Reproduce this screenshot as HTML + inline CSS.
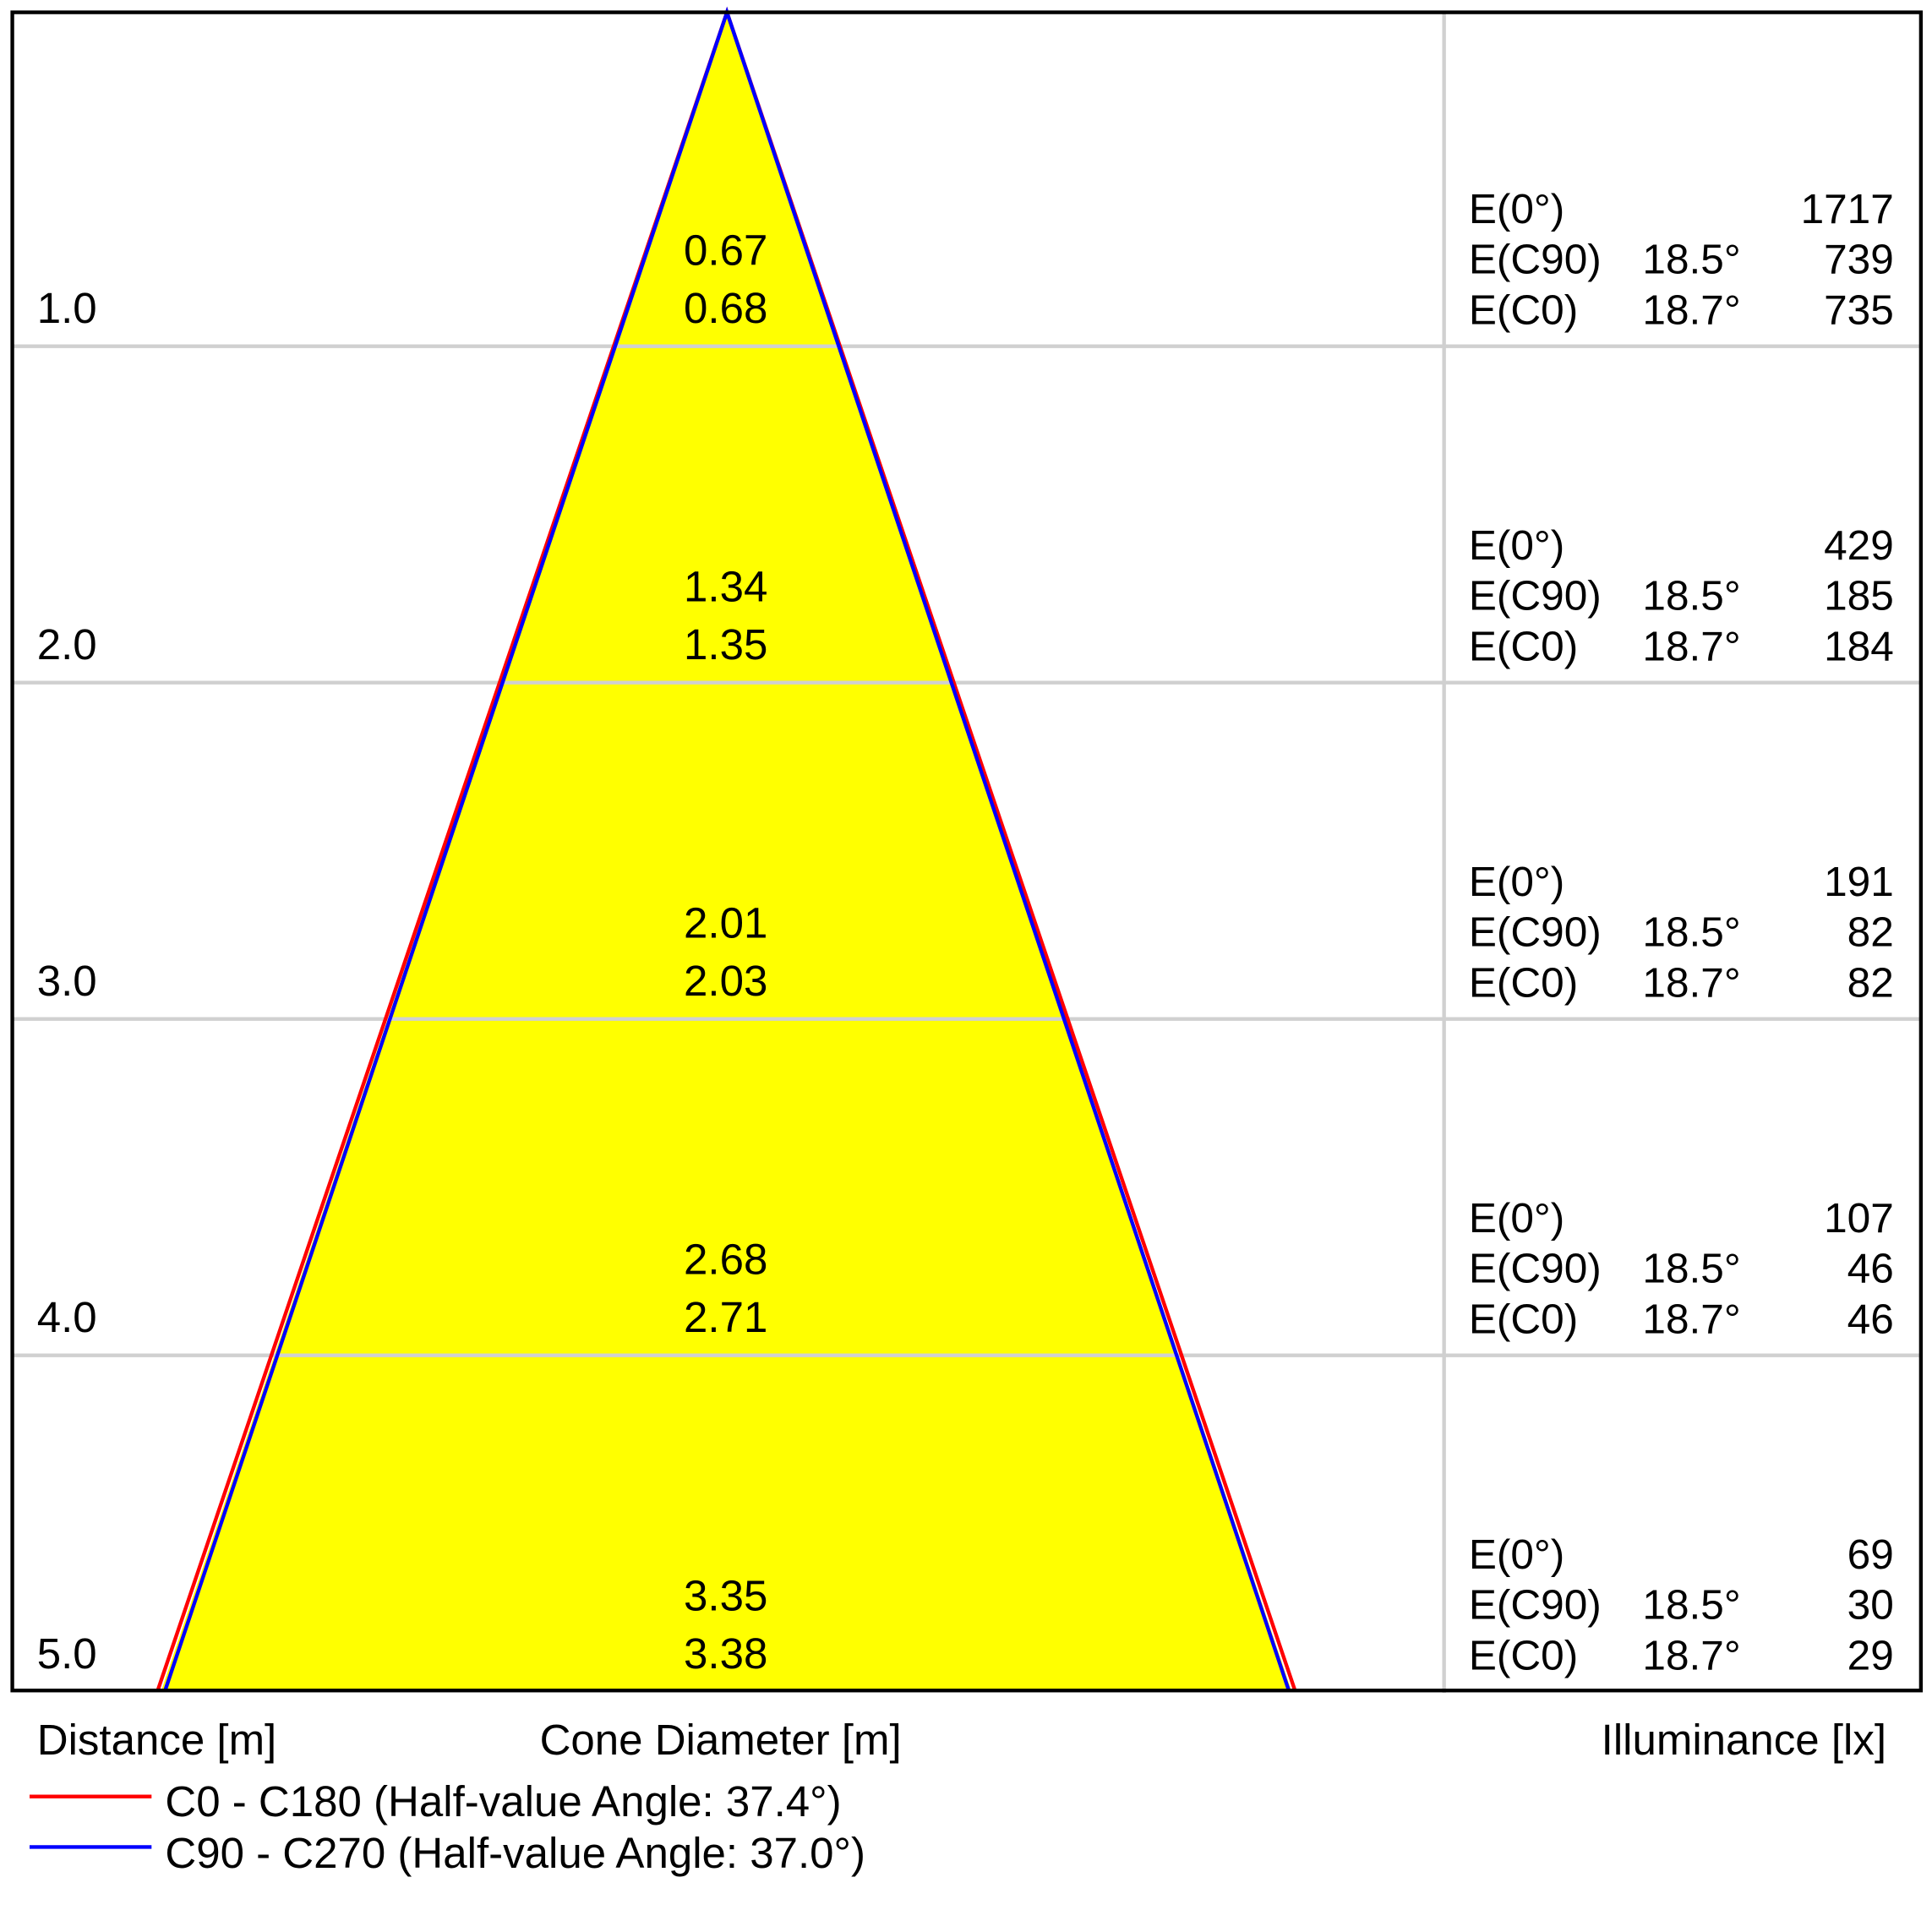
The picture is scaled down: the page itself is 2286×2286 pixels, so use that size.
<!DOCTYPE html>
<html><head><meta charset="utf-8"><style>html,body{margin:0;padding:0;background:#fff}svg{display:block}</style></head>
<body>
<svg width="2286" height="2286" viewBox="0 0 1568 1568" xmlns="http://www.w3.org/2000/svg" font-family="Liberation Sans, sans-serif" font-size="35" fill="#000">
<rect width="1568" height="1568" fill="#fff"/>
<polygon points="590,10 131,1372 1048,1372" fill="#ffff00"/>
<g stroke="#d0d0d0" stroke-width="3">
<line x1="10" y1="281" x2="1559" y2="281"/>
<line x1="10" y1="554" x2="1559" y2="554"/>
<line x1="10" y1="827" x2="1559" y2="827"/>
<line x1="10" y1="1100" x2="1559" y2="1100"/>
<line x1="1172" y1="10" x2="1172" y2="1374"/>
</g>
<polyline points="128,1372 590,10 1051,1372" fill="none" stroke="#ff0000" stroke-width="3"/>
<polyline points="134,1372 590,10 1046,1372" fill="none" stroke="#0000ff" stroke-width="3"/>
<rect x="10" y="10" width="1549" height="1362" fill="none" stroke="#000" stroke-width="3"/>
<g>
<text x="30" y="262">1.0</text><text x="30" y="535">2.0</text><text x="30" y="808">3.0</text><text x="30" y="1081">4.0</text><text x="30" y="1354">5.0</text>
</g>
<g text-anchor="middle">
<text x="589" y="215">0.67</text><text x="589" y="262">0.68</text>
<text x="589" y="488">1.34</text><text x="589" y="535">1.35</text>
<text x="589" y="761">2.01</text><text x="589" y="808">2.03</text>
<text x="589" y="1034">2.68</text><text x="589" y="1081">2.71</text>
<text x="589" y="1307">3.35</text><text x="589" y="1354">3.38</text>
</g>
<g font-size="34">
<text x="1192" y="181">E(0°)</text><text x="1192" y="222">E(C90)</text><text x="1192" y="263">E(C0)</text>
<text x="1192" y="454">E(0°)</text><text x="1192" y="495">E(C90)</text><text x="1192" y="536">E(C0)</text>
<text x="1192" y="727">E(0°)</text><text x="1192" y="768">E(C90)</text><text x="1192" y="809">E(C0)</text>
<text x="1192" y="1000">E(0°)</text><text x="1192" y="1041">E(C90)</text><text x="1192" y="1082">E(C0)</text>
<text x="1192" y="1273">E(0°)</text><text x="1192" y="1314">E(C90)</text><text x="1192" y="1355">E(C0)</text>
</g>
<g font-size="34">
<text x="1333" y="222">18.5°</text><text x="1333" y="263">18.7°</text>
<text x="1333" y="495">18.5°</text><text x="1333" y="536">18.7°</text>
<text x="1333" y="768">18.5°</text><text x="1333" y="809">18.7°</text>
<text x="1333" y="1041">18.5°</text><text x="1333" y="1082">18.7°</text>
<text x="1333" y="1314">18.5°</text><text x="1333" y="1355">18.7°</text>
</g>
<g text-anchor="end" font-size="34">
<text x="1537" y="181">1717</text><text x="1537" y="222">739</text><text x="1537" y="263">735</text>
<text x="1537" y="454">429</text><text x="1537" y="495">185</text><text x="1537" y="536">184</text>
<text x="1537" y="727">191</text><text x="1537" y="768">82</text><text x="1537" y="809">82</text>
<text x="1537" y="1000">107</text><text x="1537" y="1041">46</text><text x="1537" y="1082">46</text>
<text x="1537" y="1273">69</text><text x="1537" y="1314">30</text><text x="1537" y="1355">29</text>
</g>
<text x="30" y="1424">Distance [m]</text>
<text x="438" y="1424">Cone Diameter [m]</text>
<text x="1531" y="1424" text-anchor="end">Illuminance [lx]</text>
<line x1="24" y1="1458" x2="123" y2="1458" stroke="#ff0000" stroke-width="3"/>
<text x="134" y="1474">C0 - C180 (Half-value Angle: 37.4°)</text>
<line x1="24" y1="1499" x2="123" y2="1499" stroke="#0000ff" stroke-width="3"/>
<text x="134" y="1516">C90 - C270 (Half-value Angle: 37.0°)</text>
</svg>
</body></html>
